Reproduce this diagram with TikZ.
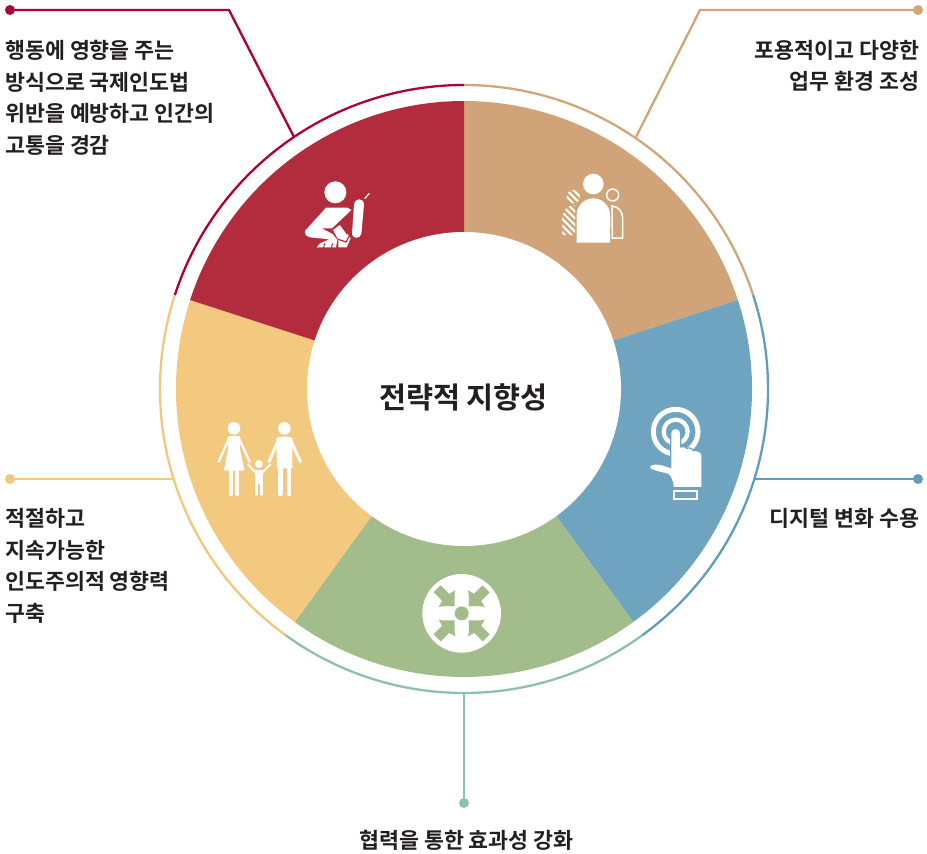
\documentclass[tikz,border=0pt]{standalone}
\usepackage{fontspec}
\setmainfont{Noto Sans CJK KR}[BoldFont={Noto Sans CJK KR Bold}]
\definecolor{cRed}{HTML}{B22C3E}
\definecolor{cTan}{HTML}{D0A478}
\definecolor{cBlue}{HTML}{6EA4BF}
\definecolor{cGreen}{HTML}{A2BC8B}
\definecolor{cYellow}{HTML}{F3C87F}
\definecolor{lRed}{HTML}{AE0035}
\definecolor{lTan}{HTML}{D0A878}
\definecolor{lBlue}{HTML}{5F9DB8}
\definecolor{lGreen}{HTML}{8FBFAF}
\definecolor{lYellow}{HTML}{F2C77E}
\definecolor{ink}{HTML}{231F20}
\tikzset{
  x=1pt,y=-1pt,
  sector/.style={fill=#1},
  ringarc/.style={draw=#1,line width=2.3pt},
  conn/.style={draw=#1,line width=2.3pt},
  enddot/.style={circle,fill=#1,minimum size=10pt,inner sep=0pt},
  lbl/.style={font=\fontsize{21.7}{31.6}\selectfont\bfseries,text=ink,inner sep=0pt},
  ico/.style={fill=white,draw=none},
  limb/.style={draw=white,line cap=round,line join=round},
}
\begin{document}
\begin{tikzpicture}
\useasboundingbox (0,0) rectangle (927,854);
\coordinate (c) at (464,389);
% sectors
\foreach \a/\b/\k in {-90/-18/cTan,-18/54/cBlue,54/126/cGreen,126/198/cYellow,198/270/cRed}{
  \fill[sector=\k] (c) -- ([shift={(\a:288)}]c) arc[start angle=\a,end angle=\b,radius=288] -- cycle;
}
% outer ring
\foreach \a/\b/\k in {126/198/lYellow,54/126/lGreen,-18/54/lBlue,-90/-18/lTan,198/270/lRed}{
  \draw[ringarc=\k] ([shift={(\a:304)}]c) arc[start angle=\a,end angle=\b,radius=304];
}
\node[circle,fill=white,minimum size=314pt,inner sep=0pt] (hub) at (c) {};
\node[font=\fontsize{29.4}{34}\selectfont\bfseries,text=ink,inner sep=0pt] (title) at (463.5,397) {전략적 지향성};
% connectors
\node[enddot=lRed] (d1) at (10,10) {};
\coordinate (b1) at (229,10);
\coordinate (e1) at (294,137);
\draw[conn=lRed] (d1.center) -- (b1) -- (e1);
\node[enddot=lTan] (d2) at (918,10) {};
\coordinate (b2) at (700,10);
\coordinate (e2) at (636,137);
\draw[conn=lTan] (d2.center) -- (b2) -- (e2);
\node[enddot=lBlue] (d3) at (918,479) {};
\coordinate (e3) at (754,479);
\draw[conn=lBlue] (d3.center) -- (e3);
\node[enddot=lYellow] (d4) at (10,479) {};
\coordinate (e4) at (174,479);
\draw[conn=lYellow] (d4.center) -- (e4);
\node[enddot=lGreen] (d5) at (464,803) {};
\coordinate (e5) at (464,693);
\draw[conn=lGreen] (d5.center) -- (e5);
% labels
\node[lbl,anchor=west,align=left] (t1) at (5,98) {행동에 영향을 주는\\방식으로 국제인도법\\위반을 예방하고 인간의\\고통을 경감};
\node[lbl,anchor=east,align=right] (t2) at (919.5,66) {포용적이고 다양한\\업무 환경 조성};
\node[lbl,anchor=east] (t3) at (919.5,518) {디지털 변화 수용};
\node[lbl,anchor=west,align=left] (t4) at (5,566) {적절하고\\지속가능한\\인도주의적 영향력\\구축};
\node[lbl] (t5) at (466.5,840) {협력을 통한 효과성 강화};
% icon 1: seat belt figure
\begin{scope}[shift={(290,160)},scale=1/3]
  \fill[ico] (136,97) circle[radius=33];
  \fill[ico] (108,143) -- (172,143) -- (184,150) -- (126,205) -- (95,205) -- (128,222) -- (142,240) -- (138,262) -- (80,262) -- (90,250) -- (118,238) -- (60,232) .. controls (42,228) and (40,212) .. (52,205) -- cycle;
  \fill[ico] (192,135) .. controls (194,112) and (222,112) .. (222,135) -- (214,222) .. controls (210,238) and (186,236) .. (186,222) -- cycle;
  \fill[ico] (128,208) -- (150,192) -- (182,235) -- (170,262) -- (145,262) -- (145,240) -- cycle;
  \draw[cRed,line width=1.2pt] (128,208) -- (150,192) -- (172,222);
  \draw[cRed,line width=1.2pt] (145,238) -- (168,246) -- (178,228);
  \draw[white,line width=1.3pt] (224,116) -- (238,100);
  \draw[cRed,line width=1pt] (105,250) -- (100,264) (128,250) -- (124,264);
\end{scope}
% icon 2: people
\begin{scope}[shift={(550,160)},scale=1/3]
  \begin{scope}
    \clip (70,110) circle[radius=20] (37,225) -- (37,175) .. controls (38,150) and (55,135) .. (75,135) -- (75,225) -- cycle;
    \foreach \s in {-160,-140,...,120}{
      \draw[white,line width=2.1pt] (\s,60) -- (\s+190,250);
    }
  \end{scope}
  \fill[ico] (130,72) circle[radius=31];
  \fill[ico] (80,248) -- (80,165) arc[start angle=180,end angle=360,radius=50] -- (180,248) -- cycle;
  \draw[white,line width=1.5pt] (188,105) circle[radius=18];
  \draw[white,line width=1.5pt] (186,138) .. controls (206,140) and (218,155) .. (218,175) -- (218,234) -- (187,234) -- cycle;
\end{scope}
% icon 3: touch
\begin{scope}[shift={(635,395)},scale=1/3]
  \draw[white,line width=5pt] (122,110) circle[radius=67];
  \draw[white,line width=4.2pt] (122,110) circle[radius=36];
  \path[fill=white,draw=cBlue,line width=1.2pt,line join=round] (107,115) .. controls (108,95) and (136,95) .. (137,115) -- (137,156) .. controls (145,152) and (152,155) .. (155,160) .. controls (165,157) and (172,160) .. (176,167) .. controls (188,165) and (200,170) .. (201,180) -- (201,278) -- (115,278) .. controls (112,258) and (108,245) .. (98,238) .. controls (75,232) and (55,228) .. (46,222) .. controls (40,215) and (45,208) .. (58,207) .. controls (75,206) and (95,212) .. (107,218) -- cycle;
  \draw[white,line width=1.8pt] (118,288) rectangle (186,311);
\end{scope}
% icon 4: arrows in
\begin{scope}[shift={(415,565)},scale=1/3]
  \coordinate (m) at (140,145);
  \fill[ico] (m) circle[radius=118];
  \fill[cGreen] (m) circle[radius=21];
  \foreach \r in {45,135,225,315}{
    \begin{scope}[shift={(m)},rotate=\r]
      \fill[cGreen] (30,0) .. controls (46,-16) and (58,-26) .. (62,-36) -- (68,-15) -- (104,-15) -- (104,15) -- (68,15) -- (62,36) .. controls (58,26) and (46,16) .. (30,0) -- cycle;
    \end{scope}
  }
\end{scope}
% icon 5: family
\begin{scope}[shift={(205,410)},scale=1/3]
  % woman
  \fill[ico] (87,55) circle[radius=19];
  \fill[ico] (68,80) .. controls (75,77) and (99,77) .. (106,80) -- (104,112) -- (118,182) -- (57,182) -- (70,112) -- cycle;
  \draw[limb,line width=2.4pt] (72,86) -- (41,155) (102,86) -- (134,155);
  \draw[limb,line width=4.2pt] (77,180) -- (77,252) (97,180) -- (97,252);
  % man
  \fill[ico] (238,55) circle[radius=19];
  \fill[ico] (214,84) .. controls (225,78) and (251,78) .. (262,84) -- (262,175) -- (216,175) -- cycle;
  \draw[limb,line width=3pt] (220,90) -- (192,155) (257,90) -- (286,155);
  \draw[limb,line width=4.6pt] (226,170) -- (226,252) (252,170) -- (252,252);
  % child
  \fill[ico] (162,162) circle[radius=12];
  \fill[ico] (149,180) -- (175,180) -- (175,222) -- (149,222) -- cycle;
  \draw[limb,line width=1.9pt] (129,163) -- (151,187) (196,163) -- (173,187);
  \draw[limb,line width=2.4pt] (155,218) -- (155,254) (170,218) -- (170,254);
\end{scope}
\end{tikzpicture}
\end{document}
